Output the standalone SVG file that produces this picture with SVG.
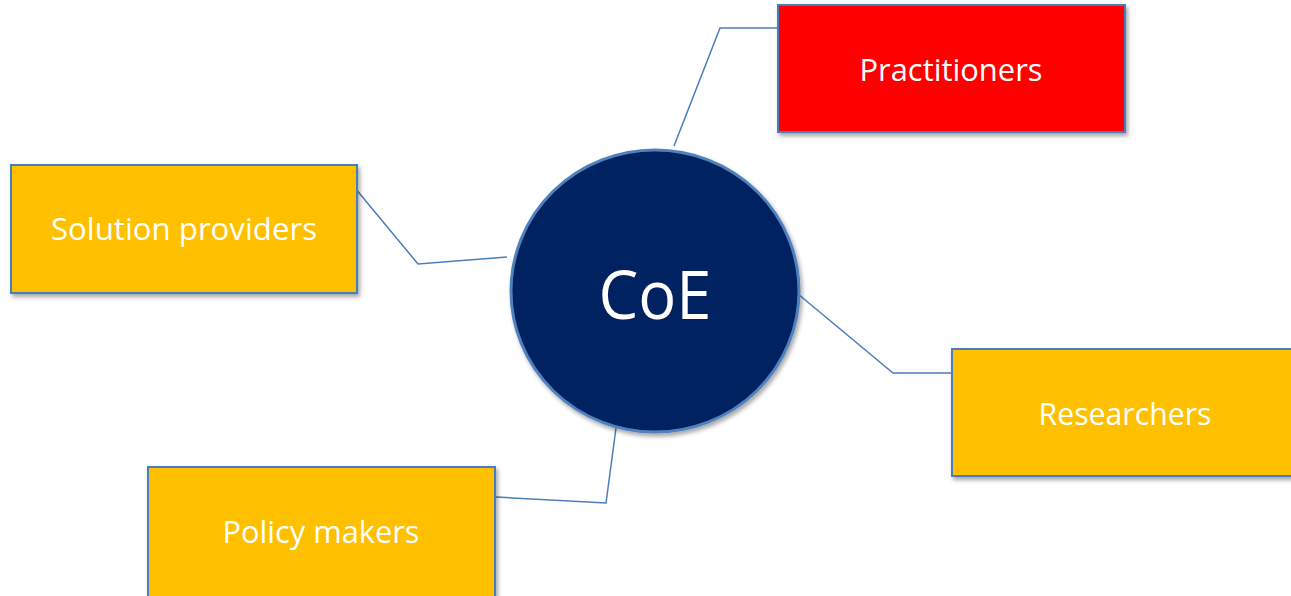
<svg xmlns="http://www.w3.org/2000/svg" width="1291" height="596" viewBox="0 0 1291 596">
<defs>
<style>
.box{stroke:#4a7ebb;stroke-width:2}
.y{fill:#ffc000}
.r{fill:#ff0000}
.t{font-family:"Open Sans","Liberation Sans",sans-serif;font-size:31px;fill:#ffffff;text-anchor:middle}
.c{fill:none;stroke:#4a7ebb;stroke-width:1.5}
</style>
<filter id="sh" x="-10%" y="-10%" width="120%" height="130%">
<feDropShadow dx="2" dy="3" stdDeviation="2" flood-color="#000" flood-opacity="0.35"/>
</filter>
</defs>
<rect width="1291" height="596" fill="#ffffff"/>
<g id="connectors">
<polyline class="c" points="674,146 720,28 784,28"/>
<polyline class="c" points="355,188 418,264 507,257"/>
<polyline class="c" points="792,289 893,373 958,373"/>
<polyline class="c" points="616,428 606,503 496,497"/>
</g>
<g id="coe">
<ellipse cx="655" cy="291" rx="144" ry="141" fill="#002060" stroke="#4f81bd" stroke-width="3" filter="url(#sh)"/>
<text x="655" y="319" font-family="Open Sans,Liberation Sans,sans-serif" font-size="67" fill="#ffffff" text-anchor="middle" textLength="113" lengthAdjust="spacingAndGlyphs">CoE</text>
</g>
<g id="practitioners">
<rect class="box r" x="778" y="5" width="347" height="127" filter="url(#sh)"/>
<text class="t" x="951" y="81" textLength="183" lengthAdjust="spacingAndGlyphs">Practitioners</text>
</g>
<g id="solution-providers">
<rect class="box y" x="11" y="165" width="346" height="128" filter="url(#sh)"/>
<text class="t" x="184" y="240" textLength="266" lengthAdjust="spacingAndGlyphs">Solution providers</text>
</g>
<g id="researchers">
<rect class="box y" x="952" y="349" width="348" height="127" filter="url(#sh)"/>
<text class="t" x="1125" y="425" textLength="173" lengthAdjust="spacingAndGlyphs">Researchers</text>
</g>
<g id="policy-makers">
<rect class="box y" x="148" y="467" width="347" height="130" filter="url(#sh)"/>
<text class="t" x="321" y="543" textLength="197" lengthAdjust="spacingAndGlyphs">Policy makers</text>
</g>
</svg>
